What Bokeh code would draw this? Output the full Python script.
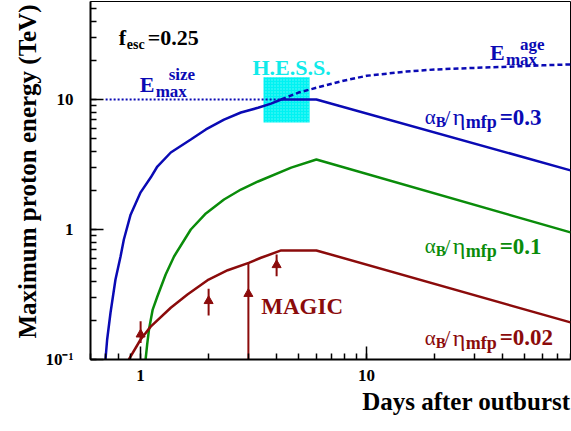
from bokeh.plotting import figure
from bokeh.models import Label, Title
from bokeh.embed import file_html
from bokeh.resources import INLINE

# ---------------- data ----------------
blue_days = [0.699, 0.711, 0.736, 0.774, 0.815, 0.843, 0.903, 1.0, 1.108, 1.186,
             1.36, 1.668, 1.945, 2.34, 2.78, 3.31, 3.78, 4.19, 6.0, 80.0]
blue_e    = [0.10, 0.1425, 0.230, 0.412, 0.620, 0.838, 1.30, 1.93, 2.51, 3.05,
             3.91, 4.92, 5.88, 7.0, 7.94, 8.63, 9.3, 10.0, 10.0, 2.85]

green_days = [1.052, 1.069, 1.089, 1.131, 1.186, 1.291, 1.406, 1.668, 1.945, 2.34,
              2.78, 3.31, 4.64, 6.0, 80.0]
green_e    = [0.10, 0.130, 0.170, 0.242, 0.305, 0.451, 0.62, 1.0, 1.33, 1.70,
              2.03, 2.34, 2.99, 3.45, 0.95]

red_days = [0.887, 1.0, 1.108, 1.36, 1.612, 2.0, 2.43, 3.01, 3.41, 4.19, 6.0, 80.0]
red_e    = [0.10, 0.1425, 0.179, 0.25, 0.316, 0.412, 0.486, 0.554, 0.606, 0.69, 0.69, 0.193]

size_days = [0.70, 4.19]
size_e    = [10.0, 10.0]

age_days = [4.19, 5.0, 6.0, 8.0, 10.0, 15.0, 20.0, 30.0, 40.0, 60.0, 80.0]
age_e    = [10.0, 11.3, 12.3, 14.0, 15.2, 16.4, 17.0, 17.5, 17.8, 18.3, 18.6]

hess_days = [3.5, 5.6]
hess_e    = [6.65, 14.8]

magic_days = [1.0, 2.0, 3.0, 4.0]
magic_lo   = [0.134, 0.218, 0.10, 0.437]
magic_hi   = [0.197, 0.350, 0.554, 0.642]
magic_head = [0.156, 0.282, 0.32, 0.533]

x_lim = (0.6, 80.0)
y_lim = (0.1, 56.7)
x_tick_labels = {1: "1", 10: "10"}
y_tick_labels = {0.1: "10\u207b\u00b9", 1: "1", 10: "10"}

FONT = "Liberation Serif"
BLUE = "#0a0ab4"
GREEN = "#0a8c0a"
RED = "#8b0b0b"
CYAN = "#10eaea"

p = figure(width=571, height=431, x_axis_type="log", y_axis_type="log",
           x_range=x_lim, y_range=y_lim, output_backend="svg",
           toolbar_location=None, min_border_left=90, min_border_right=1,
           min_border_top=1, min_border_bottom=72)
p.background_fill_color = "white"
p.border_fill_color = "white"
p.outline_line_color = "black"
p.outline_line_width = 1
p.xgrid.visible = False
p.ygrid.visible = False

for ax in (p.xaxis[0], p.yaxis[0]):
    ax.axis_line_width = 2
    ax.axis_line_color = "black"
    ax.major_tick_in = 13
    ax.major_tick_out = 0
    ax.minor_tick_in = 6
    ax.minor_tick_out = 0
    ax.major_tick_line_width = 1.5
    ax.minor_tick_line_width = 1.5
    ax.major_label_text_font = FONT
    ax.major_label_text_font_style = "bold"
    ax.major_label_text_font_size = "17px"
    ax.major_label_text_color = "black"

p.xaxis.major_label_standoff = 10
p.yaxis.major_label_standoff = 17
p.xaxis.major_label_overrides = x_tick_labels
p.yaxis.major_label_overrides = y_tick_labels

# axis titles
p.add_layout(Title(text="Days after outburst", align="right", text_font=FONT,
                   text_font_style="bold", text_font_size="25px",
                   text_color="black", standoff=5), "below")
p.add_layout(Title(text="Maximum proton energy (TeV)", align="right",
                   text_font=FONT, text_font_style="bold",
                   text_font_size="25px", text_color="black", standoff=3,
                   offset=3), "left")

# H.E.S.S. box
p.quad(left=[hess_days[0]], right=[hess_days[1]], bottom=[hess_e[0]], top=[hess_e[1]],
       fill_color="#00f2f2", line_color=None, hatch_pattern="dot",
       hatch_color="white", hatch_scale=3, hatch_weight=1, hatch_alpha=0.4)

# E_max size / age
p.line(size_days, size_e, line_color=BLUE, line_width=2, line_dash="2 2")
p.line(age_days, age_e, line_color=BLUE, line_width=2.5, line_dash="5 3")

# curves
p.line(blue_days, blue_e, line_color=BLUE, line_width=2.5)
p.line(green_days, green_e, line_color=GREEN, line_width=2.5)
p.line(red_days, red_e, line_color=RED, line_width=2.5)

# MAGIC lower limits
p.segment(x0=magic_days, y0=magic_lo, x1=magic_days, y1=magic_hi,
          line_color=RED, line_width=2)
p.scatter(magic_days, magic_head, marker="triangle", size=9,
          fill_color=RED, line_color=RED)


def lab(x, y, text, dx=0, dy=0, size=21, color="black", style="bold",
        align="left", baseline="alphabetic"):
    p.add_layout(Label(x=x, y=y, x_offset=dx, y_offset=dy, text=text,
                       text_font=FONT, text_font_style=style,
                       text_font_size=f"{size}px", text_color=color,
                       text_align=align, text_baseline=baseline))


# f_esc
lab(0.8, 30.0, "f", size=22)
lab(0.8, 30.0, "esc", dx=8, dy=-7, size=14)
lab(0.8, 30.0, "=0.25", dx=29, size=22)

# E_max^size
lab(0.99, 13.0, "E", size=22, color=BLUE)
lab(0.99, 13.0, "size", dx=29, dy=10, size=17, color=BLUE)
lab(0.99, 13.0, "max", dx=16, dy=-7, size=17, color=BLUE)

# E_max^age
lab(35.2, 23.0, "E", size=22, color=BLUE)
lab(35.2, 23.0, "age", dx=30, dy=8, size=17, color=BLUE)
lab(35.2, 23.0, "max", dx=16, dy=-7, size=17, color=BLUE)

# H.E.S.S.
lab(4.66, 17.6, "H.E.S.S.", size=22, color=CYAN, align="center")

# MAGIC
lab(3.42, 0.255, "MAGIC", size=23, color=RED)


def alpha_label(x, y, val, color):
    lab(x, y, "\u03b1", size=21, color=color, style="normal")
    lab(x, y, "B", dx=11, dy=-5, size=15, color=color)
    lab(x, y, "/", dx=19.5, size=22, color=color, style="normal")
    lab(x, y, "\u03b7", dx=28, size=24, color=color, style="normal")
    lab(x, y, "mfp", dx=41, dy=-5, size=18, color=color)
    lab(x, y, "=" + val, dx=75, size=23, color=color)


alpha_label(18.1, 7.27, "0.3", BLUE)
alpha_label(18.1, 0.744, "0.1", GREEN)
alpha_label(18.1, 0.147, "0.02", RED)

open("out.html", "w").write(file_html(p, INLINE))
